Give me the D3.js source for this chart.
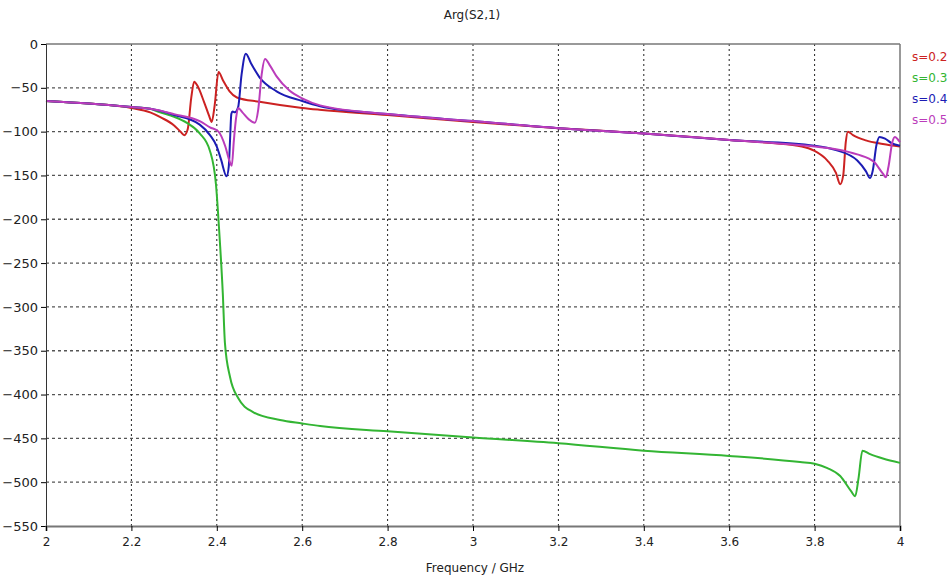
<!DOCTYPE html>
<html lang="en">
<head>
<meta charset="UTF-8">
<title>Arg(S2,1)</title>
<script src="https://cdn.jsdelivr.net/npm/d3@7"></script>
<style>
  body { margin: 0; background: #fff; font-family: 'DejaVu Sans', Verdana, sans-serif; }
  .axis text { font-family: 'DejaVu Sans', Verdana, sans-serif; fill: #222; }
</style>
</head>
<body>
<div id="chart"></div>
<script type="text/javascript">
// tick values
var xTicks = [2, 2.2, 2.4, 2.6, 2.8, 3, 3.2, 3.4, 3.6, 3.8, 4];
var yTicks = [0, -50, -100, -150, -200, -250, -300, -350, -400, -450, -500, -550];

// series: [frequency GHz, phase deg]
var s02 = [[2.0,-65],[2.1,-68],[2.2,-73],[2.244,-78],[2.27,-84],[2.3,-93],[2.315,-100],[2.324,-104],[2.332,-97],
  [2.34,-62],[2.347,-43],[2.355,-48],[2.37,-66],[2.382,-82],[2.388,-89],[2.395,-70],[2.404,-32],[2.415,-42],
  [2.43,-54],[2.447,-61],[2.5,-66],[2.6,-73],[2.64,-75],[2.8,-81],[3.0,-89],[3.2,-96],[3.4,-102],[3.6,-109.5],
  [3.7,-113],[3.77,-117],[3.8,-122],[3.83,-133],[3.85,-147],[3.86,-160],[3.867,-150],[3.873,-112],[3.878,-100],
  [3.89,-104],[3.92,-110],[3.96,-114],[4.0,-117]];
var s03 = [[2.0,-65],[2.1,-68],[2.2,-72],[2.244,-74],[2.267,-78],[2.3,-83],[2.33,-90],[2.36,-102],[2.384,-122],
  [2.398,-160],[2.407,-224],[2.414,-284],[2.419,-341],[2.431,-380],[2.45,-404],[2.485,-420],[2.548,-429],
  [2.6,-433],[2.642,-436],[2.8,-442],[3.0,-449],[3.2,-455.5],[3.4,-464],[3.6,-470],[3.766,-477],[3.8,-479],
  [3.83,-484],[3.86,-493],[3.885,-510],[3.895,-516],[3.903,-495],[3.912,-464],[3.93,-468],[3.96,-473],[4.0,-478]];
var s04 = [[2.0,-65],[2.1,-68],[2.2,-72],[2.244,-74],[2.3,-81],[2.36,-92],[2.384,-104],[2.4,-117],[2.41,-132],
  [2.423,-151],[2.428,-140],[2.431,-110],[2.434,-80],[2.437,-77],[2.442,-78],[2.45,-72],[2.458,-35],[2.468,-11],
  [2.48,-22],[2.5,-38],[2.54,-54],[2.6,-65],[2.642,-71],[2.8,-80],[3.0,-88],[3.2,-96],[3.4,-102],[3.6,-109.5],
  [3.8,-116],[3.85,-121],[3.9,-133],[3.92,-145],[3.93,-153],[3.936,-145],[3.945,-115],[3.952,-106],[3.965,-108],
  [3.98,-113],[4.0,-116]];
var s05 = [[2.0,-65],[2.1,-68],[2.2,-72],[2.244,-74],[2.3,-80],[2.36,-88],[2.384,-95],[2.404,-100],[2.42,-117],
  [2.43,-134],[2.435,-139],[2.44,-110],[2.445,-85],[2.45,-73],[2.46,-78],[2.475,-86],[2.489,-90],[2.497,-75],
  [2.505,-35],[2.513,-17],[2.525,-25],[2.54,-37],[2.57,-53],[2.6,-62],[2.642,-70],[2.8,-80],[3.0,-88],[3.2,-96],
  [3.4,-102],[3.6,-109.5],[3.8,-117],[3.85,-120],[3.9,-126],[3.94,-135],[3.96,-148],[3.967,-152],[3.973,-140],
  [3.982,-112],[3.988,-106],[3.995,-109],[4.0,-112]];

var names = ["s=0.2", "s=0.3", "s=0.4", "s=0.5"];
var colors = ["#cc2222", "#33b533", "#1c1cb4", "#bb3cbb"];
var series = [s02, s03, s04, s05];

var w = 951, h = 578;
var mLeft = 46, mRight = 900, mTop = 44, mBottom = 526;

var svg = d3.select("#chart").append("svg")
  .attr("width", w).attr("height", h);

var x = d3.scaleLinear().domain([2, 4]).range([mLeft, mRight]);
var y = d3.scaleLinear().domain([-550, 0]).range([mBottom, mTop]);

// grid
svg.append("g").selectAll("line").data(yTicks.slice(1, -1)).enter().append("line")
  .attr("x1", mLeft).attr("x2", mRight)
  .attr("y1", function(d) { return y(d); }).attr("y2", function(d) { return y(d); })
  .attr("stroke", "#555").attr("stroke-width", 1.3).attr("stroke-dasharray", "3,3");
svg.append("g").selectAll("line").data(xTicks.slice(1, -1)).enter().append("line")
  .attr("y1", mTop).attr("y2", mBottom)
  .attr("x1", function(d) { return x(d); }).attr("x2", function(d) { return x(d); })
  .attr("stroke", "#222").attr("stroke-width", 1).attr("stroke-dasharray", "2,3");

// frame top/right
svg.append("line").attr("x1", mLeft).attr("x2", mRight).attr("y1", mTop).attr("y2", mTop)
  .attr("stroke", "#777").attr("stroke-width", 1.5);
svg.append("line").attr("x1", mRight).attr("x2", mRight).attr("y1", mTop).attr("y2", mBottom)
  .attr("stroke", "#777").attr("stroke-width", 1.5);

// curves
var line = d3.line()
  .x(function(d) { return x(d[0]); })
  .y(function(d) { return y(d[1]); })
  .curve(d3.curveMonotoneX);

svg.append("g").selectAll("path").data(series).enter().append("path")
  .attr("d", function(d) { return line(d); })
  .attr("fill", "none")
  .attr("stroke", function(d, i) { return colors[i]; })
  .attr("stroke-width", 2)
  .attr("stroke-linejoin", "round");

// axes
var yAxis = svg.append("g").attr("class", "axis")
  .attr("transform", "translate(" + mLeft + ",0)")
  .call(d3.axisLeft(y).tickValues(yTicks).tickSize(5).tickPadding(3).tickFormat(d3.format("d")));
yAxis.select(".domain").attr("stroke", "#333");
yAxis.selectAll("text").style("font-size", "13px");

var xAxis = svg.append("g").attr("class", "axis")
  .attr("transform", "translate(0," + mBottom + ")")
  .call(d3.axisBottom(x).tickValues(xTicks).tickSize(5).tickPadding(6).tickFormat(d3.format("")));
xAxis.select(".domain").attr("stroke", "#777").attr("stroke-width", 2);
xAxis.selectAll("text").style("font-size", "12px");

// titles
svg.append("text").attr("x", 472).attr("y", 19).attr("text-anchor", "middle")
  .style("font-size", "12px").attr("fill", "#222").text("Arg(S2,1)");
svg.append("text").attr("x", 475).attr("y", 572).attr("text-anchor", "middle")
  .style("font-size", "12px").attr("fill", "#222").text("Frequency / GHz");

// legend
svg.append("g").selectAll("text").data(names).enter().append("text")
  .attr("x", 912)
  .attr("y", function(d, i) { return 61 + i * 21; })
  .style("font-size", "12px")
  .attr("fill", function(d, i) { return colors[i]; })
  .text(function(d) { return d; });
</script>
</body>
</html>
